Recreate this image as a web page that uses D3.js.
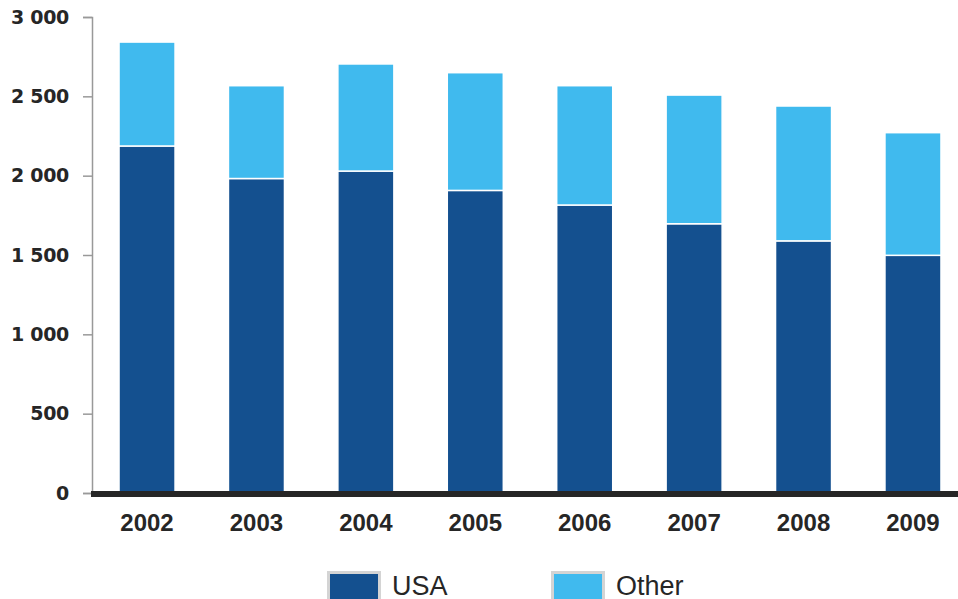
<!DOCTYPE html>
<html lang="en">
<head>
<meta charset="utf-8">
<title>D3: stacked bars</title>
<script src="https://d3js.org/d3.v7.min.js"></script>
<style>
  body { margin: 0; background: #fff; }
  text { font-family: "Liberation Sans", Arial, sans-serif; fill: #262626; }
</style>
</head>
<body>
<script>
// chart values
var years = ["2002", "2003", "2004", "2005", "2006", "2007", "2008", "2009"];
var usa   = [2187, 1982, 2029, 1907, 1815, 1697, 1589, 1498];
var other = [655, 585, 675, 742, 752, 811, 850, 773];
var yTicks = [0, 500, 1000, 1500, 2000, 2500, 3000];
var seriesNames = ["USA", "Other"];
var colors = ["#14508f", "#40baee"];

var W = 958, H = 599;
var margin = {top: 17, right: 0, bottom: 107, left: 92};
var width = W - margin.left - margin.right,
    height = H - margin.top - margin.bottom;

var svg = d3.select("body").append("svg")
    .attr("width", W)
    .attr("height", H);

var g = svg.append("g")
    .attr("transform", "translate(" + margin.left + "," + margin.top + ")");

var data = years.map(function(y, i) {
  return {year: y, USA: usa[i], Other: other[i]};
});
var stacked = d3.stack().keys(seriesNames)(data);

// band range runs a little past the right edge, as in the original
var x = d3.scaleBand().domain(years).range([0, 876]).paddingInner(0.488).paddingOuter(0.247);
var y = d3.scaleLinear().domain([0, 3000]).range([height + 1, 0]);

// bars
g.selectAll("g.layer")
  .data(stacked)
  .enter().append("g")
    .attr("class", "layer")
    .attr("fill", function(d, i) { return colors[i]; })
  .selectAll("rect")
  .data(function(d) { return d; })
  .enter().append("rect")
    .attr("x", function(d) { return x(d.data.year); })
    .attr("y", function(d) { return y(d[1]); })
    .attr("width", x.bandwidth())
    .attr("height", function(d) { return y(d[0]) - y(d[1]); })
    .attr("stroke", "#fff")
    .attr("stroke-width", 1.5);

// y axis
var yAxis = g.append("g")
    .call(d3.axisLeft(y).tickValues(yTicks).tickSize(9).tickPadding(14)
      .tickFormat(function(d) { return d3.format(",")(d).replace(",", " "); }));
yAxis.select(".domain").attr("stroke", "#999").attr("stroke-width", 1.5);
yAxis.selectAll(".tick line").attr("stroke", "#999").attr("stroke-width", 1.5);
yAxis.selectAll(".tick text")
    .style("font-family", "'DejaVu Sans', sans-serif")
    .attr("font-size", "19px")
    .attr("font-weight", "bold")
    .attr("letter-spacing", "-0.3px")
    .attr("fill", "#262626");

// baseline
g.append("line")
    .attr("x1", -1).attr("x2", width)
    .attr("y1", y(0) + 1).attr("y2", y(0) + 1)
    .attr("stroke", "#262626")
    .attr("stroke-width", 6);

// x labels
g.append("g").selectAll("text")
  .data(years)
  .enter().append("text")
    .attr("x", function(d) { return x(d) + x.bandwidth() / 2; })
    .attr("y", y(0) + 38)
    .attr("text-anchor", "middle")
    .attr("font-size", "24px")
    .attr("font-weight", "bold")
    .text(function(d) { return d; });

// legend
var legendX = [327, 551];
var legend = svg.append("g").selectAll("g")
  .data(seriesNames)
  .enter().append("g")
    .attr("transform", function(d, i) { return "translate(" + legendX[i] + ",571)"; });
legend.append("rect")
    .attr("x", 1.5).attr("y", 1.5)
    .attr("width", 51).attr("height", 30)
    .attr("fill", function(d, i) { return colors[i]; })
    .attr("stroke", "#d4d4d4")
    .attr("stroke-width", 3);
legend.append("text")
    .attr("x", 65).attr("y", 23.5)
    .attr("font-size", "27px")
    .text(function(d) { return d; });
</script>
</body>
</html>
